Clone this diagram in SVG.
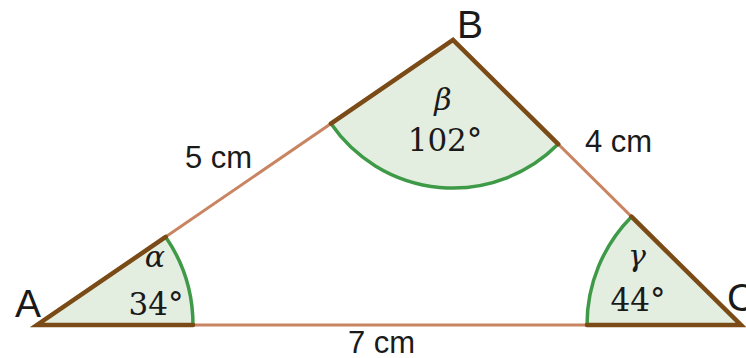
<svg xmlns="http://www.w3.org/2000/svg" width="746" height="358" viewBox="0 0 746 358">
<style>
.sector{fill:#e3eee1;stroke:none}
.arc{fill:none;stroke:#3f9a48;stroke-width:3.5}
.side{stroke:#c98461;stroke-width:3;fill:none}
.inner{stroke:#7a4b16;stroke-width:4.5;fill:none;stroke-linecap:round}
.vlabel{font-family:"Liberation Sans",Arial,sans-serif;font-size:39px;fill:#1a1a1a}
.len{font-family:"Liberation Sans",Arial,sans-serif;font-size:31px;fill:#1a1a1a}
.greek{font-family:"DejaVu Serif","Liberation Serif",serif;font-style:italic;font-size:30px;fill:#1a1a1a;text-anchor:middle}
.deg{font-family:"DejaVu Serif","Liberation Serif",serif;font-size:31px;fill:#1a1a1a;text-anchor:middle}
</style>
<rect width="746" height="358" fill="#ffffff"/>
<g id="connectors">
<line class="side" x1="37" y1="325" x2="453" y2="40"/>
<line class="side" x1="453" y1="40" x2="741" y2="325"/>
<line class="side" x1="37" y1="325" x2="741" y2="325"/>
</g>
<g id="angle-A">
<path class="sector" d="M37,325 L193,325 A156,156 0 0 0 165.7,236.9 Z"/>
<path class="arc" d="M193,325 A156,156 0 0 0 165.7,236.9"/>
<polyline class="inner" points="165.7,236.9 37,325 193,325"/>
<text class="greek" x="155" y="267">α</text>
<text class="deg" x="156" y="315">34°</text>
</g>
<g id="angle-B">
<path class="sector" d="M453,40 L330.9,123.6 A148,148 0 0 0 558.2,144.1 Z"/>
<path class="arc" d="M330.9,123.6 A148,148 0 0 0 558.2,144.1"/>
<polyline class="inner" points="330.9,123.6 453,40 558.2,144.1"/>
<text class="greek" x="443" y="110">β</text>
<text class="deg" x="445" y="151">102°</text>
</g>
<g id="angle-C">
<path class="sector" d="M741,325 L587,325 A154,154 0 0 1 631.5,216.7 Z"/>
<path class="arc" d="M587,325 A154,154 0 0 1 631.5,216.7"/>
<polyline class="inner" points="587,325 741,325 631.5,216.7"/>
<text class="greek" x="637" y="266">γ</text>
<text class="deg" x="638" y="311">44°</text>
</g>
<g id="vertex-A"><text class="vlabel" x="15" y="317">A</text></g>
<g id="vertex-B"><text class="vlabel" x="457" y="38">B</text></g>
<g id="vertex-C"><text class="vlabel" x="727" y="311">C</text></g>
<g id="side-AB"><text class="len" x="185" y="168">5 cm</text></g>
<g id="side-BC"><text class="len" x="585" y="152">4 cm</text></g>
<g id="side-AC"><text class="len" x="348" y="353">7 cm</text></g>
</svg>
